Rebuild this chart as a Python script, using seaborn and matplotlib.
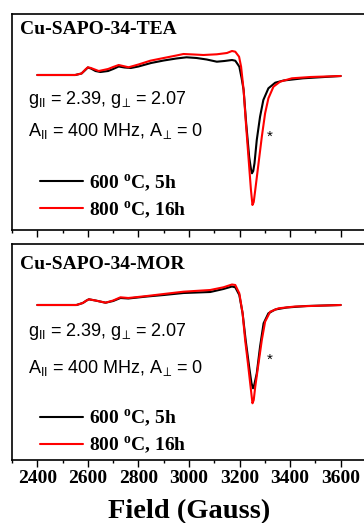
import pandas as pd
import seaborn as sns
import matplotlib.pyplot as plt
from matplotlib.ticker import MultipleLocator

# Field (Gauss) and intensity (a.u.)
tea_field_600 = [2400, 2550, 2575, 2590, 2600, 2612, 2630, 2650, 2680, 2700, 2722, 2745,
                 2770, 2800, 2850, 2900, 2950, 2990, 3030, 3070, 3110, 3140, 3170, 3183,
                 3192, 3199, 3208, 3216, 3226, 3238, 3245, 3249, 3254, 3259, 3268, 3281,
                 3294, 3314, 3341, 3374, 3451, 3600]
tea_int_600 = [0, 0, 1.5, 5, 7.5, 6.5, 4, 3, 4, 6, 8.5, 7.5,
               7, 8.5, 12, 14.5, 16.5, 17.7, 17, 15.5, 13.3, 14, 15, 14.3,
               11, 8.3, -3, -15, -48, -82, -94, -98.3, -96, -88.3, -65, -41.7,
               -25, -13.3, -7.7, -5.5, -3.3, -1]

tea_field_800 = [2400, 2550, 2575, 2590, 2600, 2612, 2643, 2680, 2700, 2722, 2761, 2800,
                 2847, 2900, 2950, 2978, 3020, 3057, 3110, 3150, 3170, 3183, 3198, 3206,
                 3216, 3225, 3235, 3245, 3251, 3256, 3262, 3275, 3288, 3301, 3314, 3334,
                 3360, 3407, 3480, 3600]
tea_int_800 = [0, 0, 1.5, 5.5, 7.7, 7, 4, 6, 8, 10, 7.7, 10.5,
               14.3, 17, 19.5, 21, 20.5, 20, 20.7, 22, 24, 23.3, 18.3, 8.3,
               -15, -48, -81.7, -115, -130, -127, -115, -88.3, -61.7, -38.3, -23.3, -11.7,
               -6.7, -3.3, -2, -1]

mor_field_600 = [2400, 2555, 2580, 2595, 2604, 2630, 2670, 2700, 2729, 2760, 2834, 2900,
                 2978, 3084, 3136, 3170, 3183, 3199, 3212, 3224, 3238, 3247, 3253, 3258,
                 3268, 3281, 3295, 3314, 3341, 3387, 3466, 3600]
mor_int_600 = [0, 0, 2, 4.5, 5.7, 4.5, 2.3, 4, 7, 6.5, 8.5, 10,
               12, 13, 16, 18.5, 17.7, 10, -8.3, -35, -62, -78, -83.3, -80,
               -68.3, -41.7, -18.3, -8.3, -4.5, -2.5, -1, 0]

mor_field_800 = [2400, 2555, 2580, 2595, 2604, 2630, 2670, 2700, 2729, 2760, 2834, 2900,
                 2978, 3084, 3136, 3170, 3183, 3199, 3212, 3222, 3233, 3242, 3251, 3256,
                 3262, 3275, 3288, 3301, 3321, 3354, 3420, 3600]
mor_int_800 = [0, 0, 2, 4.5, 5.7, 4.5, 2.3, 4.5, 7.7, 7, 9, 11,
               13.3, 15, 17.7, 20.5, 20, 11.7, -8.3, -35, -58.3, -78.3, -98.3, -95,
               -81.7, -58.3, -35, -16.7, -6.7, -3.3, -1.5, 0]

samples = ["Cu-SAPO-34-TEA", "Cu-SAPO-34-MOR"]
labels = [r"600 $^{\mathbf{o}}$C, 5h", r"800 $^{\mathbf{o}}$C, 16h"]
colors = ["black", "red"]
g_text = r"g$_{\mathrm{II}}$ = 2.39, g$_{⊥}$ = 2.07"
a_text = r"A$_{\mathrm{II}}$ = 400 MHz, A$_{⊥}$ = 0"

sns.set_theme(style="ticks")
plt.rcParams["font.family"] = ["Liberation Serif", "DejaVu Sans"]
plt.rcParams["text.color"] = "black"
plt.rcParams["xtick.color"] = "black"
plt.rcParams["axes.labelcolor"] = "black"
plt.rcParams["mathtext.fontset"] = "custom"
plt.rcParams["mathtext.rm"] = "Liberation Sans"
plt.rcParams["mathtext.it"] = "Liberation Sans:italic"
plt.rcParams["mathtext.bf"] = "Liberation Serif:bold"
plt.rcParams["mathtext.fallback"] = "stixsans"

fig = plt.figure(figsize=(3.64, 5.23), dpi=100)
ax_top = fig.add_axes([12 / 364, 293 / 523, 354 / 364, 216 / 523])
ax_bot = fig.add_axes([12 / 364, 63 / 523, 354 / 364, 216 / 523])

panels = [
    (ax_top, [(tea_field_600, tea_int_600), (tea_field_800, tea_int_800)],
     0.926, 0.606, 0.458, 0.155, (3321, -61.7)),
    (ax_bot, [(mor_field_600, mor_int_600), (mor_field_800, mor_int_800)],
     0.903, 0.594, 0.424, 0.128, (3321, -54.3)),
]

for i, (ax, curves, ty, gy, ay, ly, star) in enumerate(panels):
    for (fx, fy), lab, col in zip(curves, labels, colors):
        df = pd.DataFrame({"field": fx, "intensity": fy})
        sns.lineplot(data=df, x="field", y="intensity", color=col, lw=1.5,
                     label=lab, ax=ax)
    ax.set_xlim(2300, 3700)
    ax.set_ylim(-155, 61)
    ax.set_yticks([])
    ax.set_ylabel("")
    ax.xaxis.set_major_locator(MultipleLocator(200))
    ax.xaxis.set_minor_locator(MultipleLocator(100))
    ax.tick_params(axis="x", which="major", direction="out", length=5, width=1,
                   pad=2, labelsize=14)
    ax.tick_params(axis="x", which="minor", direction="out", length=2.5, width=1)
    for s in ["left", "top", "bottom"]:
        ax.spines[s].set_linewidth(1.2)
        ax.spines[s].set_color("black")
    ax.spines["right"].set_visible(False)
    for t in ax.get_xticklabels():
        t.set_fontweight("bold")

    ax.text(0.0226, ty, samples[i], transform=ax.transAxes, fontsize=14,
            fontweight="bold", va="center", ha="left")
    ax.text(0.045, gy, g_text, transform=ax.transAxes, fontsize=13,
            family="Liberation Sans", va="center", ha="left")
    ax.text(0.045, ay, a_text, transform=ax.transAxes, fontsize=13,
            family="Liberation Sans", va="center", ha="left")
    ax.text(star[0], star[1], "*", fontsize=11, family="Liberation Sans",
            ha="center", va="center")

    ax.legend(loc="center left", bbox_to_anchor=(0.079, ly), frameon=False,
              borderpad=0, borderaxespad=0, handlelength=2.2, handletextpad=0.3,
              labelspacing=0.3, prop={"family": "Liberation Serif",
                                      "weight": "bold", "size": 14})

ax_top.set_xticklabels([])
ax_top.set_xlabel("")
ax_bot.set_xlabel("Field (Gauss)", fontsize=20.5, fontweight="bold", labelpad=9)

fig.savefig("out.png", dpi=100)
